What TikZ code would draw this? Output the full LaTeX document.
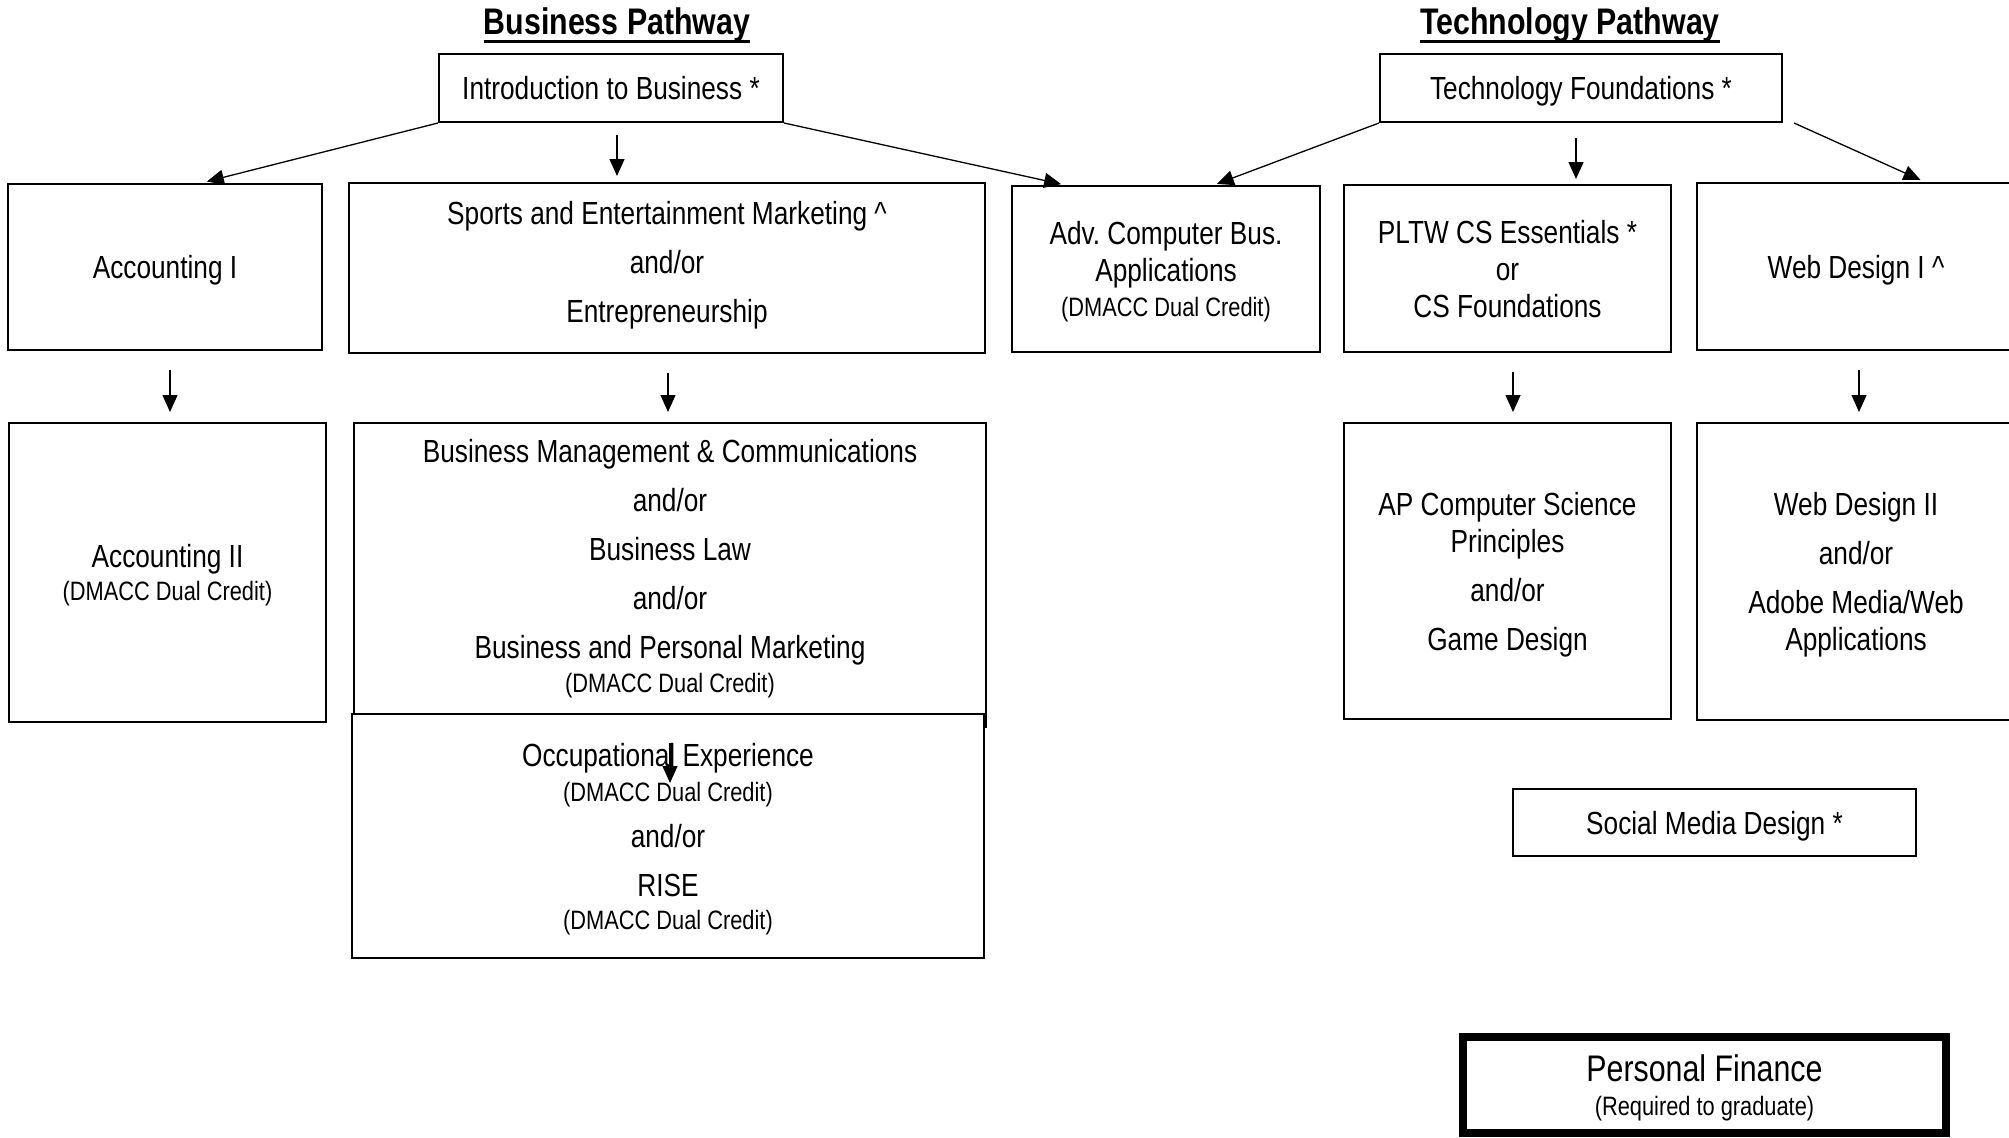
\documentclass[tikz,border=0pt]{standalone}
\usepackage{fontspec}
\setmainfont{Liberation Sans}[FakeStretch=0.82]
\usetikzlibrary{arrows.meta}
\newcommand{\dmacc}{{\fontsize{26.6}{30}\selectfont (DMACC Dual Credit)}}

\begin{document}
\begin{tikzpicture}[x=1pt,y=-1pt,
  course/.style={draw,line width=2pt,inner sep=0pt,align=center,text depth=0pt,
    font=\fontsize{32}{37}\selectfont},
  dims/.style 2 args={minimum width=#1,minimum height=#2},
  arr/.style={-{Triangle[length=17pt,width=15pt]},line width=1.3pt},
  pathtitle/.style={inner sep=0pt,anchor=base,font=\fontsize{37}{42}\selectfont\bfseries}]
   \useasboundingbox (0,0) rectangle (2009,1137);
   \clip (0,0) rectangle (2009,1137);

   \node[pathtitle] (bt) at (617,35) {Business Pathway};
   \node[pathtitle] (tt) at (1570,35) {Technology Pathway};
   \foreach \t in {bt,tt}{
   \draw[line width=3pt] ([yshift=-7pt]\t.base west) -- ([yshift=-7pt]\t.base east);
   }

   \node[course,dims={344pt}{68pt}] (intro) at (611,88) {Introduction to Business *};
   \node[course,dims={402pt}{68pt}] (techf) at (1581,88) {Technology Foundations *};

   \node[course,dims={314pt}{166pt}] (acc1) at (165,267) {Accounting I};
   \node[course,text depth=11.7pt,dims={636pt}{170pt}] (sem) at (667,268)
     {Sports and Entertainment Marketing \textasciicircum\\[12pt] and/or\\[12pt] Entrepreneurship};
   \node[course,dims={308pt}{166pt}] (adv) at (1166,269)
     {Adv.\ Computer Bus.\\ Applications\\[-2pt] \dmacc};
   \node[course,dims={327pt}{167pt}] (pltw) at (1507.5,268.5)
     {PLTW CS Essentials *\\ or\\ CS Foundations};
   \node[course,dims={318pt}{167pt}] (web1) at (1856,266.5) {Web Design I \textasciicircum};

   \node[course,dims={317pt}{299pt}] (acc2) at (167.5,572.5) {Accounting II\\[-4pt] \dmacc};
   \node[course,text depth=19pt,dims={632pt}{304pt}] (bm) at (670,575)
     {Business Management \& Communications\\[12pt] and/or\\[12pt] Business Law\\[12pt]
      and/or\\[12pt] Business and Personal Marketing\\[-3pt] \dmacc};
   \node[course,fill=white,dims={632pt}{244pt}] (occ) at (668,836)
     {Occupational Experience\\[-2pt] \dmacc\\[9pt] and/or\\[12pt] RISE\\[-4pt] \dmacc};
   \node[course,dims={327pt}{296pt}] (apcs) at (1507.5,571)
     {AP Computer Science\\ Principles\\[12pt] and/or\\[12pt] Game Design};
   \node[course,dims={318pt}{297pt}] (web2) at (1856,571.5)
     {Web Design II\\[12pt] and/or\\[12pt] Adobe Media/Web\\ Applications};

   \node[course,dims={403pt}{67pt}] (smd) at (1714.5,822.5) {Social Media Design *};
   \node[course,line width=8pt,text depth=-4pt,dims={483pt}{96pt}] (pf) at (1704.5,1085)
     {{\fontsize{37}{42}\selectfont Personal Finance}\\[-3pt]
      {\fontsize{26.6}{30}\selectfont (Required to graduate)}};

   \draw[arr,shorten >=6pt] (intro.south west) -- ([xshift=36pt]acc1.north);
   \draw[arr,shorten <=12pt,shorten >=6pt] ([xshift=6pt]intro.south) -- ([xshift=6pt]intro.south |- sem.north);
   \draw[arr,shorten >=4pt] (intro.south east) -- ([xshift=54pt]adv.north west);
   \draw[arr,shorten >=3pt] (techf.south west) -- ([xshift=48pt]adv.north);
   \draw[arr,shorten <=15pt,shorten >=5pt] ([xshift=-5pt]techf.south) -- ([xshift=-5pt]techf.south |- pltw.north);
   \draw[arr,shorten >=5pt] ([xshift=11pt]techf.south east) -- ([xshift=69pt]web1.north);

   \foreach \a/\b/\s in {acc1/acc2/5,sem/bm/1,pltw/apcs/5.5,web1/web2/3}{
   \draw[arr,shorten <=19pt,shorten >=10pt] ([xshift=\s pt]\a.south) -- ([xshift=\s pt]\a.south |- \b.north);
   }
   \coordinate (bmocc) at ([yshift=-55pt]bm.south);
   \draw[arr,shorten <=15pt] (bm.south) -- (bmocc);
\end{tikzpicture}
\end{document}
